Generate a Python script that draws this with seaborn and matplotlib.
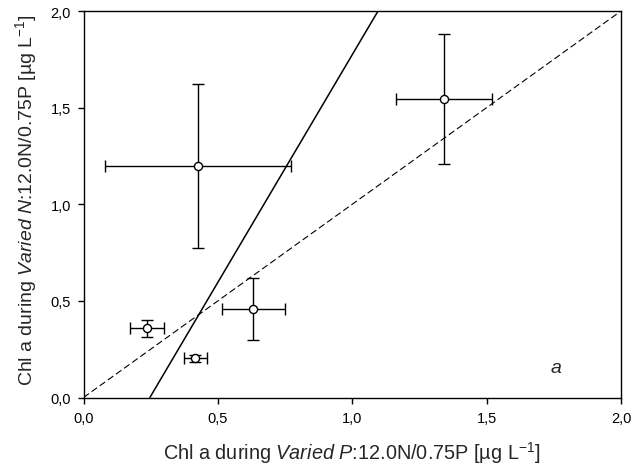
import matplotlib
matplotlib.use("Agg")
import matplotlib.pyplot as plt
import seaborn as sns
import pandas as pd

# Data
x_vals = [0.426, 1.341, 0.632, 0.237, 0.416]
y_vals = [1.198, 1.545, 0.458, 0.358, 0.203]
x_err = [0.345, 0.180, 0.118, 0.064, 0.042]
y_err = [0.425, 0.335, 0.158, 0.043, 0.017]
fit_x = [0.247, 1.096]
fit_y = [0.0, 2.0]
one_x = [0.0, 2.0]
one_y = [0.0, 2.0]
ticks = [0.0, 0.5, 1.0, 1.5, 2.0]
tick_labels = ["0,0", "0,5", "1,0", "1,5", "2,0"]

sns.set_style("ticks")
plt.rcParams['font.family'] = ['Liberation Sans', 'DejaVu Sans']
plt.rcParams['mathtext.fontset'] = 'custom'
plt.rcParams['mathtext.rm'] = 'Liberation Sans'
plt.rcParams['mathtext.it'] = 'Liberation Sans:italic'
plt.rcParams['mathtext.bf'] = 'Liberation Sans:bold'

fig = plt.figure(figsize=(6.34, 4.77), dpi=100)
ax = fig.add_axes([83.5 / 634, (477 - 398.5) / 477, (621 - 83.5) / 634, (398.5 - 12) / 477])

df = pd.DataFrame({"x": x_vals, "y": y_vals})
sns.lineplot(x=one_x, y=one_y, ax=ax, color="black", lw=0.8, linestyle=(0, (6, 3)))
sns.lineplot(x=fit_x, y=fit_y, ax=ax, color="black", lw=1.1)
ax.errorbar(x_vals, y_vals, xerr=x_err, yerr=y_err, fmt="none", ecolor="black",
            elinewidth=1.0, capsize=4, capthick=1.0, zorder=3)
sns.scatterplot(data=df, x="x", y="y", ax=ax, marker="o", s=34, facecolor="white",
                edgecolor="black", linewidth=1.0, zorder=4)

ax.set_xlim(0, 2)
ax.set_ylim(0, 2)
ax.set_xticks(ticks)
ax.set_xticklabels(tick_labels)
ax.set_yticks(ticks)
ax.set_yticklabels(tick_labels)
ax.tick_params(direction="out", length=4, width=1, labelsize=10.5, top=False, right=False,
               colors="black")
ax.tick_params(axis="x", pad=6)
ax.tick_params(axis="y", pad=5)
for s in ax.spines.values():
    s.set_visible(True)
    s.set_linewidth(1.0)
    s.set_color("black")

ax.set_xlabel(r"Chl a during $\it{Varied\ P}$:12.0N/0.75P [µg L$^{\mathregular{-1}}$]",
              fontsize=14.3, labelpad=10)
ax.set_ylabel(r"Chl a during $\it{Varied\ N}$:12.0N/0.75P [µg L$^{\mathregular{-1}}$]",
              fontsize=14)
ax.yaxis.set_label_coords(-0.083, 0.513)
ax.text(1.76, 0.155, "a", fontsize=14, style="italic", ha="center", va="center")

fig.savefig("out.png", dpi=100)
